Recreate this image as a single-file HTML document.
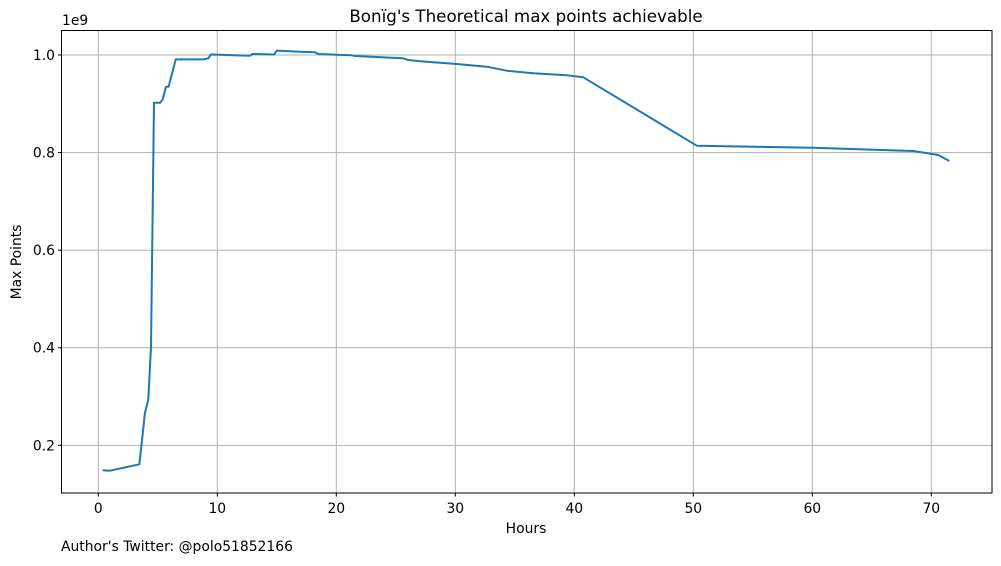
<!DOCTYPE html>
<html><head><meta charset="utf-8"><style>
body{margin:0;background:#fff;font-family:"DejaVu Sans","Liberation Sans",sans-serif;}
svg text{font-family:"DejaVu Sans","Liberation Sans",sans-serif;fill:#000;}
</style></head><body>
<svg id="chart" width="1001" height="562" xmlns="http://www.w3.org/2000/svg">
<rect x="0" y="0" width="1001" height="562" fill="#fff"/>
<g id="grid"></g>
<g id="ticks"></g>
<path id="line" fill="none" stroke="#1f77b4" stroke-width="2" stroke-linejoin="round"/>
<rect x="61.5" y="30.5" width="930.5" height="462.5" fill="none" stroke="#000" stroke-width="1"/>
<text x="526" y="22" font-size="16.7" text-anchor="middle">Bonïg's Theoretical max points achievable</text>
<text x="526" y="533" font-size="13.9" text-anchor="middle">Hours</text>
<text x="21" y="262" font-size="13.9" text-anchor="middle" transform="rotate(-90 21 262)">Max Points</text>
<text x="62" y="25" font-size="13.9">1e9</text>
<text x="61" y="551" font-size="13.9">Author's Twitter: @polo51852166</text>
</svg>
<script>
const hours=[0.37,0.98,3.45,3.92,4.2,4.43,4.68,5.19,5.41,5.69,5.91,6.5,8.82,9.24,9.47,12.75,12.97,14.79,14.99,16.93,18.21,18.49,20.03,21.29,21.57,25.63,26.05,27.03,30.12,32.64,34.32,36.55,39.36,40.76,50.29,60.08,68.49,70.59,71.51];
const points=[0.149,0.148,0.161,0.266,0.294,0.402,0.902,0.902,0.909,0.935,0.935,0.991,0.991,0.993,1.001,0.9986,1.002,1.001,1.009,1.0068,1.0055,1.002,1.0006,0.9994,0.998,0.9932,0.9898,0.9871,0.9816,0.9761,0.9679,0.9625,0.9584,0.9543,0.8141,0.810,0.8032,0.795,0.7827];
const xTicks=[0,10,20,30,40,50,60,70];
const yTicks=[0.2,0.4,0.6,0.8,1.0];
const yTickLabels=["0.2","0.4","0.6","0.8","1.0"];
const xs=h=>98.3+h*11.9;
const ys=v=>55+(1-v)*487.9;
const NS="http://www.w3.org/2000/svg";
const grid=document.getElementById('grid'),ticks=document.getElementById('ticks');
function mk(tag,attrs,parent){const e=document.createElementNS(NS,tag);for(const k in attrs)e.setAttribute(k,attrs[k]);parent.appendChild(e);return e;}
xTicks.forEach(t=>{const x=xs(t);
 const g=mk('line',{x1:x,x2:x,y1:30.5,y2:493,stroke:'#b0b0b0','stroke-width':1},grid);
 
 
 const tk=mk('line',{x1:x,x2:x,y1:493,y2:496.5,stroke:'#000'},ticks);
 
 
 const tx=mk('text',{x:x,y:513,'font-size':13.9,'text-anchor':'middle'},ticks);tx.textContent=t;
 
 
});
yTicks.forEach((t,i)=>{const y=ys(t);
 const g=mk('line',{x1:61.5,x2:992,y1:y,y2:y,stroke:'#b0b0b0','stroke-width':1},grid);
 
 
 const tk=mk('line',{x1:58,x2:61.5,y1:y,y2:y,stroke:'#000'},ticks);
 
 
 const tx=mk('text',{x:55,y:y+5,'font-size':13.9,'text-anchor':'end'},ticks);tx.textContent=yTickLabels[i];
 
 
});
document.getElementById('line').setAttribute('d',hours.map((h,i)=>(i?'L':'M')+xs(h).toFixed(1)+' '+ys(points[i]).toFixed(1)).join(' '));
</script>
</body></html>
